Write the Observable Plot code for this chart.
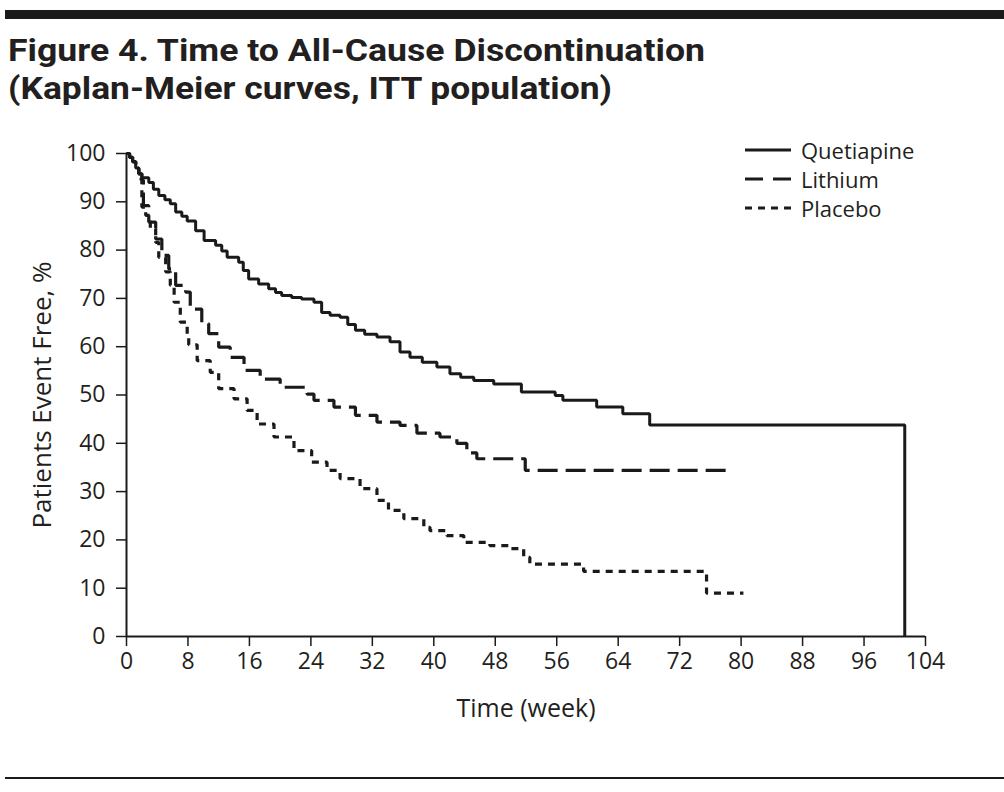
<!DOCTYPE html>
<html><head><meta charset="utf-8">
<script src="https://cdn.jsdelivr.net/npm/d3@7"></script>
<script src="https://cdn.jsdelivr.net/npm/@observablehq/plot@0.6"></script>
<style>
body{margin:0;background:#fff;}
#wrap{position:relative;width:1004px;height:792px;overflow:hidden;font-family:"Open Sans",sans-serif;color:#231f20;background:#fff;}
#topbar{position:absolute;left:5px;top:10px;width:999px;height:9px;background:#1a1a1a;}
#botrule{position:absolute;left:5px;top:777px;width:999px;height:2px;background:#1a1a1a;}
#title{position:absolute;left:8px;top:31px;font-family:Roboto,"Open Sans",sans-serif;font-weight:700;font-size:32px;line-height:38px;white-space:nowrap;}
#title div{height:38px;}
#title span{display:inline-block;transform-origin:0 50%;}
#chart{position:absolute;left:0;top:130px;}
#legend{position:absolute;left:745px;top:135px;font-size:22px;}
#legend .row{display:flex;align-items:center;height:29px;}
#legend svg{margin-right:10px;}
</style></head><body><div id="wrap">
<div id="topbar"></div>
<div id="title"></div>
<div id="chart"></div>
<div id="legend"></div>
<div id="botrule"></div>
</div>
<script>
const titleLines = ["Figure 4. Time to All-Cause Discontinuation", "(Kaplan-Meier curves, ITT population)"];
const seriesNames = ["Quetiapine", "Lithium", "Placebo"];
const xTicks = [0, 8, 16, 24, 32, 40, 48, 56, 64, 72, 80, 88, 96, 104];
const yTicks = [0, 10, 20, 30, 40, 50, 60, 70, 80, 90, 100];
const xLabel = "Time (week)";
const yLabel = "Patients Event Free, %";

// [week, % event free] at each step
const quetiapineSteps = [[0,100],[0.4,99.2],[0.8,98.3],[1.2,97],[1.6,95.8],[2.0,95],[2.9,94],[3.5,92.6],[4.2,91.3],[5.0,90.4],[5.7,89.6],[6.4,87.9],[7.2,87],[7.9,86],[9.0,84],[10.1,82],[11.6,81],[12.4,79.8],[13.1,78.5],[14.6,77.5],[15.2,75.8],[15.9,74],[17.2,73],[18.5,72],[19.4,71.2],[20.2,70.6],[21.5,70.2],[22.8,69.9],[24.4,69.2],[25.4,67.1],[26.5,66.5],[27.8,66.1],[28.8,64.6],[29.8,63.4],[31.0,62.6],[32.6,62],[34.3,61],[35.6,58.9],[36.9,57.8],[38.5,56.8],[40.4,55.8],[42.1,54.4],[43.5,53.7],[45.2,53],[47.8,52.3],[51.4,50.6],[55.8,49.9],[56.8,48.9],[61.2,47.5],[64.6,46.1],[68.1,43.8],[101.3,43.8],[101.3,0]];
const lithiumSteps = [[0,100],[0.4,99.2],[0.8,98.3],[1.2,97],[1.6,95.8],[2.0,94.5],[2.2,89.2],[2.9,85.8],[3.8,82.3],[4.6,78.9],[5.5,76.1],[6.4,72.7],[7.7,71.3],[8.3,67.8],[9.8,64.8],[10.7,62.7],[12.0,59.9],[13.5,57.8],[15.3,55.1],[17.4,53.3],[20.0,51.6],[23.5,50.2],[24.4,48.9],[27.0,47.5],[29.8,45.8],[32.6,44.4],[35.6,43.7],[37.8,42.1],[40.8,41.3],[43.0,40.0],[44.3,38.0],[45.6,36.8],[51.9,34.4],[78.8,34.4]];
const placeboSteps = [[0,100],[0.4,99.2],[0.8,98.3],[1.2,97],[1.6,95.8],[1.9,94.5],[2.0,88.9],[2.5,87.2],[3.1,84.4],[3.8,81.6],[4.2,78.5],[5.1,75.5],[5.7,72.7],[6.2,69.2],[7.0,65.1],[7.9,62.3],[8.1,60.4],[9.2,57.1],[10.9,54.7],[12.0,51.3],[14.0,49.2],[15.7,46.8],[17.0,44.0],[19.2,41.3],[21.8,38.5],[24.1,36.1],[26.1,34.4],[27.8,32.7],[30.4,30.6],[32.6,28.2],[34.1,26.1],[36.1,24.4],[38.7,22.6],[39.5,21.9],[41.7,20.9],[43.9,19.5],[47.3,18.8],[49.9,18.2],[51.7,16.4],[52.5,15.0],[59.5,13.5],[75.5,9.0],[80.3,9.0]];

const ink = "#1a1a1a";
const styles = {
  Quetiapine: {dash: null, width: 3},
  Lithium: {dash: "20,8", width: 3.2},
  Placebo: {dash: "7,6", width: 3.2}
};
const stepsBySeries = {Quetiapine: quetiapineSteps, Lithium: lithiumSteps, Placebo: placeboSteps};
const rows = seriesNames.flatMap(name => stepsBySeries[name].map(([week, pct]) => ({series: name, week, pct})));

// Title (HTML, fitted to the reference width)
const titleWidths = [697, 604];
const tdiv = d3.select("#title");
titleLines.forEach((t, i) => {
  const line = tdiv.append("div");
  const span = line.append("span").text(t);
  const w = span.node().getBoundingClientRect().width;
  span.style("transform", `scaleX(${titleWidths[i] / w})`);
});

const lineMarks = seriesNames.map(name => Plot.line(rows.filter(d => d.series === name), {
  x: "week", y: "pct", curve: "step-after", stroke: ink,
  strokeWidth: styles[name].width, strokeDasharray: styles[name].dash, strokeLinejoin: "miter", strokeLinecap: "butt"
}));

const chart = Plot.plot({
  width: 1004, height: 600,
  marginLeft: 126, marginRight: 79, marginTop: 23, marginBottom: 94,
  style: {fontFamily: "Open Sans", fontSize: "22px", color: "#231f20", background: "transparent"},
  x: {domain: [0, 104]},
  y: {domain: [0, 100]},
  marks: [
    Plot.axisX({ticks: xTicks, tickSize: 10, tickPadding: 6, tickFormat: d => d, label: null, fontSize: 23, strokeWidth: 1.5, stroke: ink}),
    Plot.axisY({ticks: yTicks, tickSize: 10, tickPadding: 11, tickFormat: d => d, label: null, fontSize: 23, strokeWidth: 1.5, stroke: ink}),
    Plot.text([xLabel], {text: d => d, frameAnchor: "bottom", dy: 80, fontSize: 25, fill: "#231f20"}),
    Plot.text([yLabel], {text: d => d, frameAnchor: "left", textAnchor: "middle", dx: -84, rotate: -90, fontSize: 26, fill: "#231f20"}),
    ...lineMarks,
    Plot.ruleY([0], {stroke: ink, strokeWidth: 2}),
    Plot.ruleX([0], {stroke: ink, strokeWidth: 2})
  ]
});
document.getElementById("chart").appendChild(chart);

// Legend
const leg = d3.select("#legend");
seriesNames.forEach(name => {
  const r = leg.append("div").attr("class", "row");
  const s = r.append("svg").attr("width", 46).attr("height", 10);
  s.append("line").attr("x1", 0).attr("x2", 46).attr("y1", 5).attr("y2", 5)
    .attr("stroke", ink).attr("stroke-width", 3)
    .attr("stroke-dasharray", name === "Lithium" ? "18,10" : name === "Placebo" ? "7,6" : null);
  r.append("span").text(name);
});
</script>
</body></html>
